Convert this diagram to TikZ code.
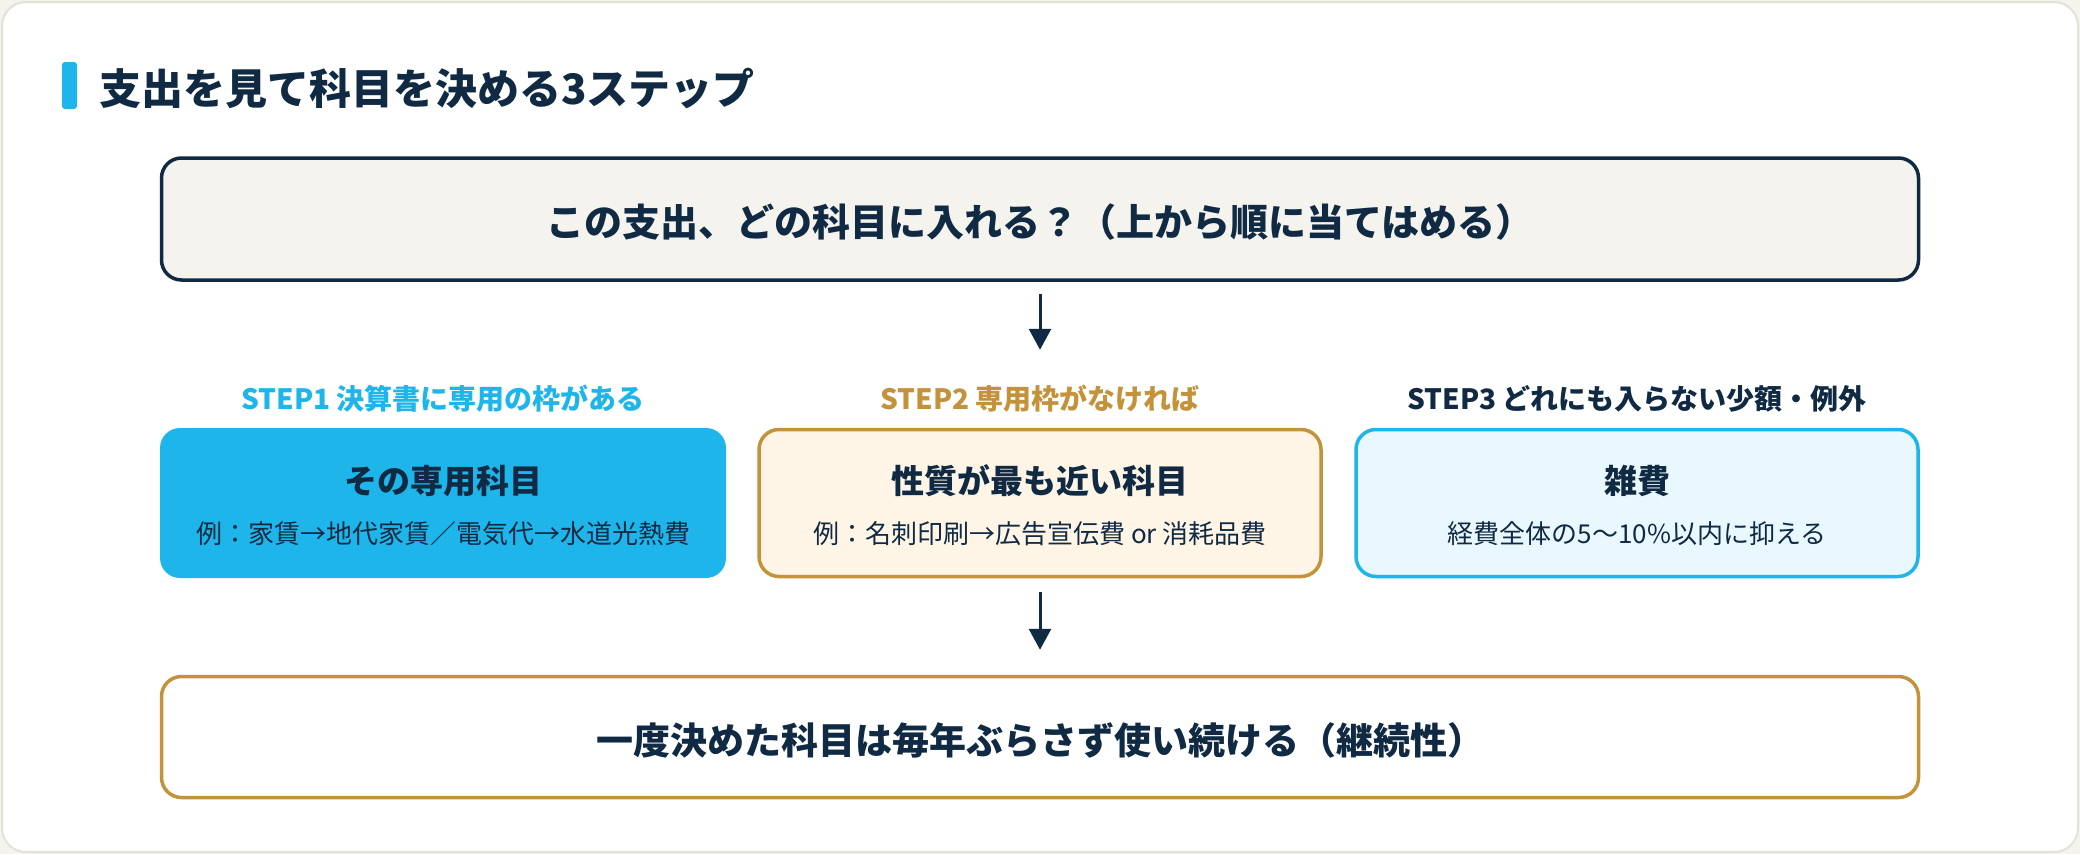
\documentclass[tikz,border=0pt]{standalone}
\usepackage{fontspec}
\setmainfont{Noto Sans CJK JP}
\usetikzlibrary{arrows.meta}
\definecolor{navy}{HTML}{102A43}
\definecolor{skyblue}{HTML}{1EB6EA}
\definecolor{gold}{HTML}{C4923A}
\definecolor{cream}{HTML}{FEF5E6}
\definecolor{paleblue}{HTML}{E9F8FE}
\definecolor{topfill}{HTML}{F5F3EE}
\definecolor{cardline}{HTML}{E4E1D6}
\definecolor{pagebg}{HTML}{F4F3EE}
\tikzset{
  box/.style={rounded corners=20pt, inner sep=0pt, minimum width=562pt, minimum height=147pt, line width=3.5pt},
  widebox/.style={rounded corners=20pt, inner sep=0pt, minimum width=1757pt, minimum height=122pt, line width=3.5pt},
  arr/.style={draw=navy, line width=3pt, -{Triangle[length=21pt,width=22pt]}},
  lab/.style={inner sep=0pt, font=\bfseries\fontsize{28}{32}\selectfont},
  boxhead/.style={inner sep=0pt, text=navy, font=\bfseries\fontsize{33}{38}\selectfont},
  boxsub/.style={inner sep=0pt, text=navy, font=\fontsize{26}{30}\selectfont},
  bigtext/.style={inner sep=0pt, text=navy, font=\bfseries\fontsize{37}{42}\selectfont}
}
\begin{document}
\begin{tikzpicture}[x=1pt,y=-1pt]
\useasboundingbox (0,0) rectangle (2080,854);
\fill[pagebg] (0,0) rectangle (2080,854);
\draw[cardline, line width=2pt, fill=white, rounded corners=24pt] (2,2) rectangle (2078,852);
% title
\fill[skyblue, rounded corners=3pt] (62,62) rectangle (77,109);
\node[anchor=west, inner sep=0pt, text=navy, font=\bfseries\fontsize{42}{48}\selectfont] (title) at (99,88) {支出を見て科目を決める3ステップ};
% question box
\node[widebox, draw=navy, fill=topfill] (q) at (1040,219) {};
\node[bigtext, font=\bfseries\fontsize{38}{43}\selectfont] (qt) at (1040,222) {この支出、どの科目に入れる？（上から順に当てはめる）};
% row boxes
\node[box, fill=skyblue, minimum width=566pt, minimum height=150pt] (b1) at (443,503) {};
\node[box, draw=gold, fill=cream] (b2) at (1040,503) {};
\node[box, draw=skyblue, fill=paleblue] (b3) at (1637,503) {};
% labels
\node[lab, text=skyblue] (l1) at (443,399) {STEP1 決算書に専用の枠がある};
\node[lab, text=gold] (l2) at (1040,399) {STEP2 専用枠がなければ};
\node[lab, text=navy] (l3) at (1637,399) {STEP3 どれにも入らない少額・例外};
% box texts
\node[boxhead] (h1) at (443,481) {その専用科目};
\node[boxsub] (s1) at (443,534) {例：家賃→地代家賃／電気代→水道光熱費};
\node[boxhead] (h2) at (1040,481) {性質が最も近い科目};
\node[boxsub] (s2) at (1040,534) {例：名刺印刷→広告宣伝費 or 消耗品費};
\node[boxhead] (h3) at (1637,481) {雑費};
\node[boxsub] (s3) at (1637,534) {経費全体の5〜10\%以内に抑える};
% bottom box
\node[widebox, minimum height=121pt, draw=gold, fill=white] (bot) at (1040,737) {};
\node[bigtext] (bt) at (1040,740) {一度決めた科目は毎年ぶらさず使い続ける（継続性）};
% arrows
\draw[arr, shorten <=12pt, shorten >=78pt] (q.south) -- (b2.north);
\draw[arr, shorten <=14pt, shorten >=25pt] (b2.south) -- (bot.north);
\end{tikzpicture}
\end{document}
